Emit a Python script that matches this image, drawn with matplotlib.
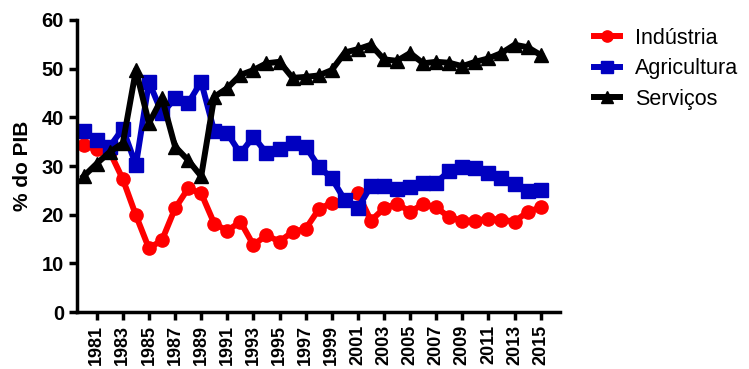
import numpy as np
import matplotlib
matplotlib.use("Agg")
from matplotlib import pyplot as plt

plt.rcParams['font.family'] = ['Liberation Sans', 'DejaVu Sans']

years = np.arange(1980, 2016)

industria = [34.3, 33.4, 32.9, 27.3, 19.9, 13.1, 14.8, 21.3, 25.4, 24.4,
             18.2, 16.7, 18.6, 13.8, 15.8, 14.5, 16.5, 17.1, 21.1, 22.5,
             23.0, 24.4, 18.8, 21.3, 22.3, 20.6, 22.2, 21.5, 19.5, 18.8,
             18.8, 19.2, 19.0, 18.6, 20.6, 21.5]

agricultura = [37.1, 35.3, 34.0, 37.7, 30.2, 47.3, 40.8, 43.9, 42.9, 47.3,
               37.1, 36.7, 32.6, 36.0, 32.7, 33.6, 34.8, 34.0, 29.9, 27.5,
               23.0, 21.3, 25.9, 25.9, 25.2, 25.6, 26.6, 26.6, 29.0, 29.9,
               29.5, 28.5, 27.5, 26.4, 24.9, 25.1]

servicos = [27.9, 30.5, 32.9, 34.7, 49.7, 38.8, 43.9, 34.0, 31.2, 27.9,
            44.2, 46.0, 48.7, 49.7, 51.1, 51.4, 48.1, 48.3, 48.6, 49.7,
            53.3, 54.0, 54.9, 51.9, 51.6, 53.2, 51.1, 51.4, 51.2, 50.5,
            51.4, 52.1, 53.2, 54.9, 54.4, 52.8]

tick_years = np.arange(1981, 2016, 2)

fig = plt.figure(figsize=(7.49, 3.69), dpi=100)
ax = fig.add_axes([0.103, 0.154, 0.645, 0.792])

ax.plot(years, industria, '-o', color='#ff0000', lw=4.3, ms=9.5, label='Indústria')
ax.plot(years, agricultura, '-s', color='#0000c0', lw=4.3, ms=9.5, label='Agricultura')
ax.plot(years, servicos, '-^', color='black', lw=4.3, ms=9.5, label='Serviços')

ax.set_xlim(1979.5, 2016.5)
ax.set_ylim(0, 60)
ax.set_yticks(np.arange(0, 61, 10))
ax.set_xticks(tick_years)
ax.set_xticklabels([str(y) for y in tick_years], rotation=90)

for s in ['top', 'right']:
    ax.spines[s].set_visible(False)
for s in ['left', 'bottom']:
    ax.spines[s].set_linewidth(2.5)
ax.tick_params(width=2.5, length=6, labelsize=14.5)
ax.tick_params(axis='x', pad=3, labelsize=13)
for lab in ax.get_xticklabels() + ax.get_yticklabels():
    lab.set_fontweight('bold')

ax.set_ylabel('% do PIB', fontsize=15, fontweight='bold')
ax.yaxis.set_label_coords(-0.093, 0.5)

ax.legend(loc='upper left', bbox_to_anchor=(1.03, 1.04), frameon=False,
          fontsize=15.5, handlelength=1.2, markerscale=0.85, labelspacing=0.45,
          handletextpad=0.7)

fig.savefig('out.png', dpi=100)
